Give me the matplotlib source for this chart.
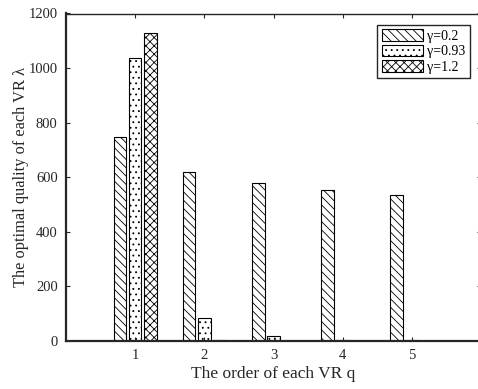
import matplotlib
matplotlib.use("Agg")
import matplotlib.pyplot as plt
import numpy as np

plt.rcParams['font.family'] = ['Liberation Serif', 'DejaVu Serif']
plt.rcParams['hatch.linewidth'] = 0.6

orders = [1, 2, 3, 4, 5]
gamma_labels = ['γ=0.2', 'γ=0.93', 'γ=1.2']
quality_g02 = [748, 619, 580, 552, 535]
quality_g093 = [1036, 85, 20, 2, 2]
quality_g12 = [1130, 2, 1, 1, 1]
yticks = [0, 200, 400, 600, 800, 1000, 1200]

axis_col = '#262626'
series = [quality_g02, quality_g093, quality_g12]
hatches = ['\\\\\\\\', '...', 'xxxx']
offsets = [-0.22, 0.0, 0.22]
width = 0.18

fig = plt.figure(figsize=(4.78, 3.89), dpi=100)
ax = fig.add_axes([66 / 478, 1 - 341 / 389, (481 - 66) / 478, (341 - 13.5) / 389])

x = np.array(orders, dtype=float)
handles = []
for vals, h, off, lab in zip(series, hatches, offsets, gamma_labels):
    b = ax.bar(x + off, vals, width=width, facecolor='white', edgecolor='black',
               hatch=h, linewidth=0.8, label=lab)
    handles.append(b)

ax.set_xlim(0, 6)
ax.set_ylim(0, 1200)
ax.set_xticks(orders)
ax.set_yticks(yticks)
ax.tick_params(direction='in', top=True, right=True, length=3, width=0.8,
               colors=axis_col, labelsize=10.5, pad=6)
for s in ax.spines.values():
    s.set_color(axis_col)
    s.set_linewidth(1.0)
ax.spines['bottom'].set_linewidth(1.6)
ax.spines['left'].set_linewidth(1.6)

ax.set_xlabel('The order of each VR q', fontsize=12.5, color=axis_col, labelpad=3)
ax.set_ylabel('The optimal quality of each VR λ', fontsize=11.8, color=axis_col, labelpad=0)

leg = ax.legend(handles=handles, loc='upper right', bbox_to_anchor=(0.973, 0.965),
                fontsize=10, fancybox=False, framealpha=1, edgecolor=axis_col,
                handlelength=3.0, handleheight=0.9, handletextpad=0.3,
                borderpad=0.3, labelspacing=0.15, borderaxespad=0)
leg.get_frame().set_linewidth(1.0)

fig.savefig('out.png', dpi=100)
